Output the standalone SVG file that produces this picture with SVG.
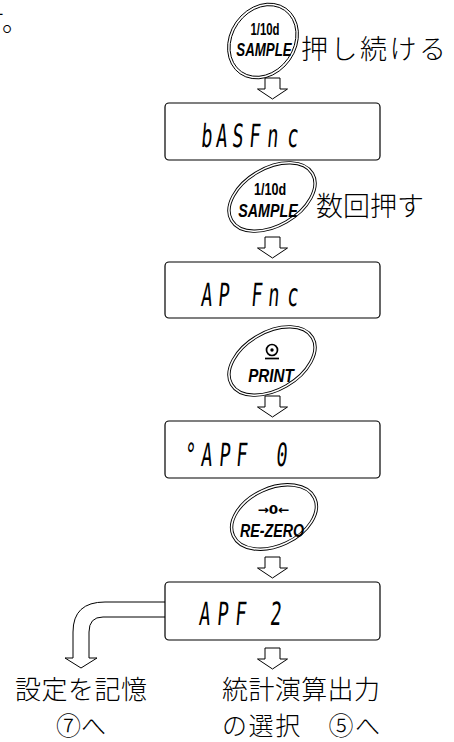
<svg xmlns="http://www.w3.org/2000/svg" width="454" height="742" viewBox="0 0 454 742">
<style>
.box{fill:#fff;stroke:#000;stroke-width:1.2}
.arw{fill:#fff;stroke:#000;stroke-width:1}
.btn ellipse{fill:none;stroke:#000;stroke-width:0.9}
.seg{font-family:"DejaVu Sans Mono",monospace;font-size:32px;fill:#000}
.jp{font-family:"Noto Sans CJK JP",sans-serif;font-weight:300;fill:#000}
.k1{font-family:"Liberation Sans",Arial,sans-serif;font-weight:bold;font-size:17px;text-anchor:middle}
.k2{font-family:"Liberation Sans",Arial,sans-serif;font-weight:bold;font-style:italic;font-size:19px;text-anchor:middle}
</style>
<rect width="454" height="742" fill="#fff"/>
<text class="jp" x="-21.5" y="31" font-size="26">す。</text>

<g id="connectors">
<path class="arw" d="M265,78 H280 V89 H287.5 L272.5,99 L257.5,89 H265 Z"/>
<path class="arw" d="M265,237 H280 V248 H287.5 L272.5,258 L257.5,248 H265 Z"/>
<path class="arw" d="M265,396 H280 V407 H287.5 L272.5,417 L257.5,407 H265 Z"/>
<path class="arw" d="M265,557 H280 V568 H287.5 L272.5,578 L257.5,568 H265 Z"/>
<path class="arw" d="M265,648 H280 V659 H287.5 L272.5,669 L257.5,659 H265 Z"/>
<path class="arw" d="M165,602 H105 Q73,602 73,632 V658 H65 L81,668 L97,658 H89 V632 Q89,617 103,617 H165"/>
</g>

<g id="btn1" class="btn">
<g transform="translate(263,41) rotate(-55)"><ellipse rx="40" ry="33"/><ellipse rx="37.5" ry="30.5"/></g>
<text class="k1" transform="translate(265,35) scale(0.67,1)">1/10d</text>
<text class="k2" transform="translate(264,56) scale(0.7,1)">SAMPLE</text>
</g>
<text id="lbl1" class="jp" x="301" y="59" font-size="27" letter-spacing="2.5">押し続ける</text>

<g id="disp1">
<rect class="box" x="165" y="103" width="215" height="57" rx="4"/>
<g transform="translate(200,147) skewX(-5) scale(0.58,1)"><text class="seg" x="0.9 26.7 54.3 83.6 114.7 149.1" y="0">bASFnc</text></g>
</g>

<g id="btn2" class="btn">
<g transform="translate(272,197) rotate(-30)"><ellipse rx="48" ry="30"/><ellipse rx="45.5" ry="27.5"/></g>
<text class="k1" transform="translate(270,195) scale(0.74,1)">1/10d</text>
<text class="k2" transform="translate(268,217) scale(0.75,1)">SAMPLE</text>
</g>
<text id="lbl2" class="jp" x="316" y="216" font-size="27">数回押す</text>

<g id="disp2">
<rect class="box" x="165" y="262" width="215" height="56" rx="4"/>
<g transform="translate(200,306) skewX(-5) scale(0.58,1)"><text class="seg" x="0.9 30.2 60 87 116.4 149.1" y="0">AP Fnc</text></g>
</g>

<g id="btn3" class="btn">
<g transform="translate(272,361) rotate(-30)"><ellipse rx="48" ry="30"/><ellipse rx="45.5" ry="27.5"/></g>
<circle cx="272" cy="350" r="5.5" fill="none" stroke="#000" stroke-width="1.7"/>
<circle cx="272" cy="350" r="1.7" fill="#000"/>
<line x1="265" y1="358.5" x2="279" y2="358.5" stroke="#000" stroke-width="1.7"/>
<text class="k2" transform="translate(271,382) scale(0.8,1)">PRINT</text>
</g>

<g id="disp3">
<rect class="box" x="165" y="421" width="215" height="57" rx="4"/>
<g transform="translate(200,466) skewX(-5) scale(0.58,1)"><text class="seg" y="0"><tspan x="-28">°</tspan><tspan x="0.9 31.9 61.2 100 130 159.5">APF  0</tspan></text></g>
</g>

<g id="btn4" class="btn">
<g transform="translate(274,517) rotate(-25)"><ellipse rx="46" ry="30"/><ellipse rx="43.5" ry="27.5"/></g>
<text x="273.5" y="514" font-family="DejaVu Sans,sans-serif" font-weight="bold" font-size="12" text-anchor="middle" textLength="32" lengthAdjust="spacingAndGlyphs">→0←</text>
<text class="k2" transform="translate(272,537) scale(0.75,1)">RE-ZERO</text>
</g>

<g id="disp4">
<rect class="box" x="165" y="582" width="215" height="58" rx="4"/>
<g transform="translate(200,625) skewX(-5) scale(0.58,1)"><text class="seg" x="-2.6 28.4 59.5 90 120 157.8" y="0">APF  2</text></g>
</g>

<g id="out1">
<text class="jp" x="15" y="699" font-size="26" textLength="132">設定を記憶</text>
<text class="jp" x="56" y="735" font-size="25">⑦へ</text>
</g>
<g id="out2">
<text class="jp" x="222" y="699" font-size="26" textLength="158">統計演算出力</text>
<text class="jp" x="222" y="735" font-size="25" textLength="158">の選択　⑤へ</text>
</g>
</svg>
